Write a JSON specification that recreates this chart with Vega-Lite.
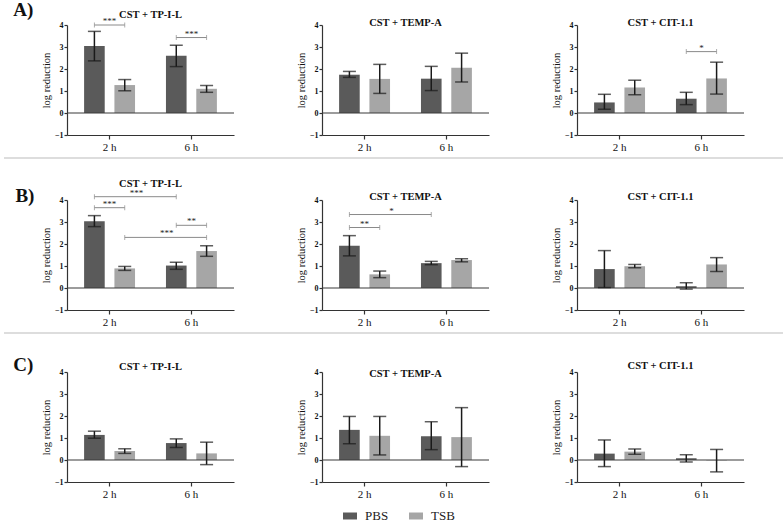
{
  "$schema": "https://vega.github.io/schema/vega-lite/v6.json",
  "padding": {"left": 3, "top": 1, "right": 0, "bottom": 0},
  "config": {
    "font": "Liberation Serif",
    "view": {"stroke": null},
    "title": {"font": "Liberation Serif", "fontSize": 10.5, "fontWeight": "bold", "color": "#111", "frame": "group", "anchor": "middle"},
    "axis": {"domainColor": "#333", "tickColor": "#333", "labelColor": "#111", "titleColor": "#111", "labelFont": "Liberation Serif", "titleFont": "Liberation Serif", "domainWidth": 1.2, "tickWidth": 1.2, "grid": false},
    "axisX": {"labelFontSize": 11, "labelAngle": 0, "tickSize": 4, "labelPadding": 2},
    "axisY": {"labelFontSize": 8, "labelFontWeight": "bold", "tickSize": 3, "labelPadding": 1, "titleFontSize": 10.5, "titleFontWeight": "normal", "titlePadding": 3, "labelOverlap": false},
    "legend": {"symbolType": "M-1,-0.5H1V0.5H-1Z", "symbolSize": 196, "symbolStrokeWidth": 0, "labelFont": "Liberation Serif", "labelFontSize": 13, "labelColor": "#222", "columnPadding": 20, "labelOffset": 8}
  },
  "datasets": {
    "bars": [
      {"panel": "A1", "time": "2 h", "medium": "PBS", "mean": 3.05, "lo": 2.37, "hi": 3.71},
      {"panel": "A1", "time": "2 h", "medium": "TSB", "mean": 1.27, "lo": 1.01, "hi": 1.52},
      {"panel": "A1", "time": "6 h", "medium": "PBS", "mean": 2.60, "lo": 2.11, "hi": 3.08},
      {"panel": "A1", "time": "6 h", "medium": "TSB", "mean": 1.10, "lo": 0.94, "hi": 1.25},
      {"panel": "A2", "time": "2 h", "medium": "PBS", "mean": 1.74, "lo": 1.62, "hi": 1.89},
      {"panel": "A2", "time": "2 h", "medium": "TSB", "mean": 1.55, "lo": 0.89, "hi": 2.21},
      {"panel": "A2", "time": "6 h", "medium": "PBS", "mean": 1.56, "lo": 1.02, "hi": 2.12},
      {"panel": "A2", "time": "6 h", "medium": "TSB", "mean": 2.06, "lo": 1.41, "hi": 2.72},
      {"panel": "A3", "time": "2 h", "medium": "PBS", "mean": 0.48, "lo": 0.17, "hi": 0.85},
      {"panel": "A3", "time": "2 h", "medium": "TSB", "mean": 1.16, "lo": 0.83, "hi": 1.49},
      {"panel": "A3", "time": "6 h", "medium": "PBS", "mean": 0.65, "lo": 0.38, "hi": 0.94},
      {"panel": "A3", "time": "6 h", "medium": "TSB", "mean": 1.57, "lo": 0.86, "hi": 2.31},
      {"panel": "B1", "time": "2 h", "medium": "PBS", "mean": 3.03, "lo": 2.79, "hi": 3.29},
      {"panel": "B1", "time": "2 h", "medium": "TSB", "mean": 0.89, "lo": 0.80, "hi": 0.98},
      {"panel": "B1", "time": "6 h", "medium": "PBS", "mean": 1.02, "lo": 0.85, "hi": 1.17},
      {"panel": "B1", "time": "6 h", "medium": "TSB", "mean": 1.68, "lo": 1.44, "hi": 1.92},
      {"panel": "B2", "time": "2 h", "medium": "PBS", "mean": 1.92, "lo": 1.46, "hi": 2.38},
      {"panel": "B2", "time": "2 h", "medium": "TSB", "mean": 0.62, "lo": 0.47, "hi": 0.77},
      {"panel": "B2", "time": "6 h", "medium": "PBS", "mean": 1.13, "lo": 1.06, "hi": 1.21},
      {"panel": "B2", "time": "6 h", "medium": "TSB", "mean": 1.27, "lo": 1.19, "hi": 1.33},
      {"panel": "B3", "time": "2 h", "medium": "PBS", "mean": 0.86, "lo": 0.02, "hi": 1.70},
      {"panel": "B3", "time": "2 h", "medium": "TSB", "mean": 0.99, "lo": 0.92, "hi": 1.07},
      {"panel": "B3", "time": "6 h", "medium": "PBS", "mean": 0.08, "lo": -0.05, "hi": 0.24},
      {"panel": "B3", "time": "6 h", "medium": "TSB", "mean": 1.07, "lo": 0.75, "hi": 1.38},
      {"panel": "C1", "time": "2 h", "medium": "PBS", "mean": 1.14, "lo": 0.99, "hi": 1.31},
      {"panel": "C1", "time": "2 h", "medium": "TSB", "mean": 0.41, "lo": 0.30, "hi": 0.51},
      {"panel": "C1", "time": "6 h", "medium": "PBS", "mean": 0.77, "lo": 0.57, "hi": 0.96},
      {"panel": "C1", "time": "6 h", "medium": "TSB", "mean": 0.30, "lo": -0.21, "hi": 0.81},
      {"panel": "C2", "time": "2 h", "medium": "PBS", "mean": 1.37, "lo": 0.74, "hi": 1.98},
      {"panel": "C2", "time": "2 h", "medium": "TSB", "mean": 1.10, "lo": 0.23, "hi": 1.98},
      {"panel": "C2", "time": "6 h", "medium": "PBS", "mean": 1.08, "lo": 0.47, "hi": 1.74},
      {"panel": "C2", "time": "6 h", "medium": "TSB", "mean": 1.04, "lo": -0.30, "hi": 2.38},
      {"panel": "C3", "time": "2 h", "medium": "PBS", "mean": 0.29, "lo": -0.30, "hi": 0.91},
      {"panel": "C3", "time": "2 h", "medium": "TSB", "mean": 0.38, "lo": 0.26, "hi": 0.50},
      {"panel": "C3", "time": "6 h", "medium": "PBS", "mean": 0.08, "lo": -0.09, "hi": 0.24},
      {"panel": "C3", "time": "6 h", "medium": "TSB", "mean": -0.02, "lo": -0.54, "hi": 0.48}
    ],
    "bracketEnds": [
      {"panel": "A1", "bracket": "a", "time": "2 h", "medium": "PBS", "level": 4.0},
      {"panel": "A1", "bracket": "a", "time": "2 h", "medium": "TSB", "level": 4.0},
      {"panel": "A1", "bracket": "b", "time": "6 h", "medium": "PBS", "level": 3.43},
      {"panel": "A1", "bracket": "b", "time": "6 h", "medium": "TSB", "level": 3.43},
      {"panel": "A3", "bracket": "a", "time": "6 h", "medium": "PBS", "level": 2.79},
      {"panel": "A3", "bracket": "a", "time": "6 h", "medium": "TSB", "level": 2.79},
      {"panel": "B1", "bracket": "a", "time": "2 h", "medium": "PBS", "level": 4.15},
      {"panel": "B1", "bracket": "a", "time": "6 h", "medium": "PBS", "level": 4.15},
      {"panel": "B1", "bracket": "b", "time": "2 h", "medium": "PBS", "level": 3.65},
      {"panel": "B1", "bracket": "b", "time": "2 h", "medium": "TSB", "level": 3.65},
      {"panel": "B1", "bracket": "c", "time": "6 h", "medium": "PBS", "level": 2.85},
      {"panel": "B1", "bracket": "c", "time": "6 h", "medium": "TSB", "level": 2.85},
      {"panel": "B1", "bracket": "d", "time": "2 h", "medium": "TSB", "level": 2.30},
      {"panel": "B1", "bracket": "d", "time": "6 h", "medium": "TSB", "level": 2.30},
      {"panel": "B2", "bracket": "a", "time": "2 h", "medium": "PBS", "level": 3.34},
      {"panel": "B2", "bracket": "a", "time": "6 h", "medium": "PBS", "level": 3.34},
      {"panel": "B2", "bracket": "b", "time": "2 h", "medium": "PBS", "level": 2.75},
      {"panel": "B2", "bracket": "b", "time": "2 h", "medium": "TSB", "level": 2.75}
    ],
    "bracketLabels": [
      {"panel": "A1", "comparison": "medium", "time": "2 h", "medium": "PBS", "level": 4.0, "label": "***"},
      {"panel": "A1", "comparison": "medium", "time": "6 h", "medium": "PBS", "level": 3.43, "label": "***"},
      {"panel": "A3", "comparison": "medium", "time": "6 h", "medium": "PBS", "level": 2.79, "label": "*"},
      {"panel": "B1", "comparison": "time", "time": "2 h", "medium": "PBS", "level": 4.15, "label": "***"},
      {"panel": "B1", "comparison": "medium", "time": "2 h", "medium": "PBS", "level": 3.65, "label": "***"},
      {"panel": "B1", "comparison": "medium", "time": "6 h", "medium": "PBS", "level": 2.85, "label": "**"},
      {"panel": "B1", "comparison": "time", "time": "2 h", "medium": "TSB", "level": 2.30, "label": "***"},
      {"panel": "B2", "comparison": "time", "time": "2 h", "medium": "PBS", "level": 3.34, "label": "*"},
      {"panel": "B2", "comparison": "medium", "time": "2 h", "medium": "PBS", "level": 2.75, "label": "**"}
    ],
    "baseline": [{"base": 0}]
  },
  "spacing": 5,
  "vconcat": [
    {
      "title": {"text": "A)", "orient": "left", "anchor": "end", "angle": 0, "align": "right", "baseline": "top", "fontSize": 19, "fontWeight": "bold", "offset": -12, "dy": -24, "frame": "group"},
      "bounds": "flush", "spacing": 88,
      "hconcat": [
        {
          "width": 167, "height": 110,
          "title": {"text": "CST + TP-I-L", "offset": -3},
          "data": {"name": "bars"},
          "transform": [{"filter": "datum.panel === 'A1'"}],
          "layer": [
            {"mark": {"type": "bar"}, "encoding": {
              "x": {"field": "time", "type": "nominal", "scale": {"domain": ["2 h", "6 h"], "paddingInner": 0, "paddingOuter": 0.02}, "axis": {"title": null}},
              "xOffset": {"field": "medium", "type": "nominal", "scale": {"domain": ["PBS", "TSB"], "paddingInner": 0.32, "paddingOuter": 0.51}},
              "y": {"field": "mean", "type": "quantitative", "scale": {"domain": [-1, 4], "nice": false}, "axis": {"values": [-1, 0, 1, 2, 3, 4], "tickCount": 6, "title": "log reduction", "labelOverlap": false}},
              "color": {"field": "medium", "type": "nominal", "scale": {"domain": ["PBS", "TSB"], "range": ["#5a5a5a", "#a6a6a6"]}, "legend": {"orient": "none", "legendX": 276, "legendY": 484, "direction": "horizontal", "title": null}}}},
            {"data": {"name": "baseline"}, "mark": {"type": "rule", "color": "#3a3a3a", "strokeWidth": 1.2}, "encoding": {
              "y": {"field": "base", "type": "quantitative", "scale": {"domain": [-1, 4], "nice": false}}}},
            {"mark": {"type": "rule", "color": "#1a1a1a", "strokeWidth": 1.5}, "encoding": {
              "x": {"field": "time", "type": "nominal"}, "xOffset": {"field": "medium", "type": "nominal"},
              "y": {"field": "lo", "type": "quantitative", "scale": {"domain": [-1, 4], "nice": false}}, "y2": {"field": "hi"}}},
            {"mark": {"type": "tick", "orient": "horizontal", "color": "#1a1a1a", "thickness": 1.5, "size": 13}, "encoding": {
              "x": {"field": "time", "type": "nominal"}, "xOffset": {"field": "medium", "type": "nominal"},
              "y": {"field": "hi", "type": "quantitative", "scale": {"domain": [-1, 4], "nice": false}}}},
            {"mark": {"type": "tick", "orient": "horizontal", "color": "#1a1a1a", "thickness": 1.5, "size": 13}, "encoding": {
              "x": {"field": "time", "type": "nominal"}, "xOffset": {"field": "medium", "type": "nominal"},
              "y": {"field": "lo", "type": "quantitative", "scale": {"domain": [-1, 4], "nice": false}}}},
            {"data": {"name": "bracketEnds"}, "transform": [{"filter": "datum.panel === 'A1'"}],
             "mark": {"type": "line", "color": "#8a8a8a", "strokeWidth": 1}, "encoding": {
              "x": {"field": "time", "type": "nominal"}, "xOffset": {"field": "medium", "type": "nominal"},
              "y": {"field": "level", "type": "quantitative", "scale": {"domain": [-1, 4], "nice": false}}, "detail": {"field": "bracket"}}},
            {"data": {"name": "bracketEnds"}, "transform": [{"filter": "datum.panel === 'A1'"}],
             "mark": {"type": "tick", "orient": "vertical", "color": "#8a8a8a", "thickness": 1, "size": 5}, "encoding": {
              "x": {"field": "time", "type": "nominal"}, "xOffset": {"field": "medium", "type": "nominal"},
              "y": {"field": "level", "type": "quantitative", "scale": {"domain": [-1, 4], "nice": false}}}},
            {"data": {"name": "bracketLabels"}, "transform": [{"filter": "datum.panel === 'A1' && datum.comparison === 'medium'"}],
             "mark": {"type": "text", "baseline": "bottom", "dy": 1, "fontSize": 9, "color": "#222"}, "encoding": {
              "x": {"field": "time", "type": "nominal"},
              "y": {"field": "level", "type": "quantitative", "scale": {"domain": [-1, 4], "nice": false}}, "text": {"field": "label"}}}
          ]
        },
        {
          "width": 167, "height": 110,
          "title": {"text": "CST + TEMP-A", "offset": -7},
          "data": {"name": "bars"},
          "transform": [{"filter": "datum.panel === 'A2'"}],
          "layer": [
            {"mark": {"type": "bar"}, "encoding": {
              "x": {"field": "time", "type": "nominal", "scale": {"domain": ["2 h", "6 h"], "paddingInner": 0, "paddingOuter": 0.02}, "axis": {"title": null}},
              "xOffset": {"field": "medium", "type": "nominal", "scale": {"domain": ["PBS", "TSB"], "paddingInner": 0.32, "paddingOuter": 0.51}},
              "y": {"field": "mean", "type": "quantitative", "scale": {"domain": [-1, 4], "nice": false}, "axis": {"values": [-1, 0, 1, 2, 3, 4], "tickCount": 6, "title": "log reduction", "labelOverlap": false}},
              "color": {"field": "medium", "type": "nominal", "scale": {"domain": ["PBS", "TSB"], "range": ["#5a5a5a", "#a6a6a6"]}, "legend": {"orient": "none", "legendX": 276, "legendY": 484, "direction": "horizontal", "title": null}}}},
            {"data": {"name": "baseline"}, "mark": {"type": "rule", "color": "#3a3a3a", "strokeWidth": 1.2}, "encoding": {
              "y": {"field": "base", "type": "quantitative", "scale": {"domain": [-1, 4], "nice": false}}}},
            {"mark": {"type": "rule", "color": "#1a1a1a", "strokeWidth": 1.5}, "encoding": {
              "x": {"field": "time", "type": "nominal"}, "xOffset": {"field": "medium", "type": "nominal"},
              "y": {"field": "lo", "type": "quantitative", "scale": {"domain": [-1, 4], "nice": false}}, "y2": {"field": "hi"}}},
            {"mark": {"type": "tick", "orient": "horizontal", "color": "#1a1a1a", "thickness": 1.5, "size": 13}, "encoding": {
              "x": {"field": "time", "type": "nominal"}, "xOffset": {"field": "medium", "type": "nominal"},
              "y": {"field": "hi", "type": "quantitative", "scale": {"domain": [-1, 4], "nice": false}}}},
            {"mark": {"type": "tick", "orient": "horizontal", "color": "#1a1a1a", "thickness": 1.5, "size": 13}, "encoding": {
              "x": {"field": "time", "type": "nominal"}, "xOffset": {"field": "medium", "type": "nominal"},
              "y": {"field": "lo", "type": "quantitative", "scale": {"domain": [-1, 4], "nice": false}}}}
          ]
        },
        {
          "width": 167, "height": 110,
          "title": {"text": "CST + CIT-1.1", "offset": -7},
          "data": {"name": "bars"},
          "transform": [{"filter": "datum.panel === 'A3'"}],
          "layer": [
            {"mark": {"type": "bar"}, "encoding": {
              "x": {"field": "time", "type": "nominal", "scale": {"domain": ["2 h", "6 h"], "paddingInner": 0, "paddingOuter": 0.02}, "axis": {"title": null}},
              "xOffset": {"field": "medium", "type": "nominal", "scale": {"domain": ["PBS", "TSB"], "paddingInner": 0.32, "paddingOuter": 0.51}},
              "y": {"field": "mean", "type": "quantitative", "scale": {"domain": [-1, 4], "nice": false}, "axis": {"values": [-1, 0, 1, 2, 3, 4], "tickCount": 6, "title": "log reduction", "labelOverlap": false}},
              "color": {"field": "medium", "type": "nominal", "scale": {"domain": ["PBS", "TSB"], "range": ["#5a5a5a", "#a6a6a6"]}, "legend": {"orient": "none", "legendX": 276, "legendY": 484, "direction": "horizontal", "title": null}}}},
            {"data": {"name": "baseline"}, "mark": {"type": "rule", "color": "#3a3a3a", "strokeWidth": 1.2}, "encoding": {
              "y": {"field": "base", "type": "quantitative", "scale": {"domain": [-1, 4], "nice": false}}}},
            {"mark": {"type": "rule", "color": "#1a1a1a", "strokeWidth": 1.5}, "encoding": {
              "x": {"field": "time", "type": "nominal"}, "xOffset": {"field": "medium", "type": "nominal"},
              "y": {"field": "lo", "type": "quantitative", "scale": {"domain": [-1, 4], "nice": false}}, "y2": {"field": "hi"}}},
            {"mark": {"type": "tick", "orient": "horizontal", "color": "#1a1a1a", "thickness": 1.5, "size": 13}, "encoding": {
              "x": {"field": "time", "type": "nominal"}, "xOffset": {"field": "medium", "type": "nominal"},
              "y": {"field": "hi", "type": "quantitative", "scale": {"domain": [-1, 4], "nice": false}}}},
            {"mark": {"type": "tick", "orient": "horizontal", "color": "#1a1a1a", "thickness": 1.5, "size": 13}, "encoding": {
              "x": {"field": "time", "type": "nominal"}, "xOffset": {"field": "medium", "type": "nominal"},
              "y": {"field": "lo", "type": "quantitative", "scale": {"domain": [-1, 4], "nice": false}}}},
            {"data": {"name": "bracketEnds"}, "transform": [{"filter": "datum.panel === 'A3'"}],
             "mark": {"type": "line", "color": "#8a8a8a", "strokeWidth": 1}, "encoding": {
              "x": {"field": "time", "type": "nominal"}, "xOffset": {"field": "medium", "type": "nominal"},
              "y": {"field": "level", "type": "quantitative", "scale": {"domain": [-1, 4], "nice": false}}, "detail": {"field": "bracket"}}},
            {"data": {"name": "bracketEnds"}, "transform": [{"filter": "datum.panel === 'A3'"}],
             "mark": {"type": "tick", "orient": "vertical", "color": "#8a8a8a", "thickness": 1, "size": 5}, "encoding": {
              "x": {"field": "time", "type": "nominal"}, "xOffset": {"field": "medium", "type": "nominal"},
              "y": {"field": "level", "type": "quantitative", "scale": {"domain": [-1, 4], "nice": false}}}},
            {"data": {"name": "bracketLabels"}, "transform": [{"filter": "datum.panel === 'A3' && datum.comparison === 'medium'"}],
             "mark": {"type": "text", "baseline": "bottom", "dy": 1, "fontSize": 9, "color": "#222"}, "encoding": {
              "x": {"field": "time", "type": "nominal"},
              "y": {"field": "level", "type": "quantitative", "scale": {"domain": [-1, 4], "nice": false}}, "text": {"field": "label"}}}
          ]
        }
      ]
    },
    {
      "width": 716, "height": 16,
      "data": {"values": [{"edge": 1}]},
      "mark": {"type": "rule", "color": "#d2d2d2", "strokeWidth": 1.5},
      "encoding": {
        "y": {"field": "edge", "type": "quantitative", "scale": {"domain": [0, 1]}, "axis": null},
        "x": {"datum": -0.088, "type": "quantitative", "scale": {"domain": [0, 1]}, "axis": null},
        "x2": {"datum": 1}
      }
    },
    {
      "title": {"text": "B)", "orient": "left", "anchor": "end", "angle": 0, "align": "right", "baseline": "top", "fontSize": 19, "fontWeight": "bold", "offset": -12, "dy": -13, "frame": "group"},
      "bounds": "flush", "spacing": 88,
      "hconcat": [
        {
          "width": 167, "height": 110,
          "title": {"text": "CST + TP-I-L", "offset": -1},
          "data": {"name": "bars"},
          "transform": [{"filter": "datum.panel === 'B1'"}],
          "layer": [
            {"mark": {"type": "bar"}, "encoding": {
              "x": {"field": "time", "type": "nominal", "scale": {"domain": ["2 h", "6 h"], "paddingInner": 0, "paddingOuter": 0.02}, "axis": {"title": null}},
              "xOffset": {"field": "medium", "type": "nominal", "scale": {"domain": ["PBS", "TSB"], "paddingInner": 0.32, "paddingOuter": 0.51}},
              "y": {"field": "mean", "type": "quantitative", "scale": {"domain": [-1, 4], "nice": false}, "axis": {"values": [-1, 0, 1, 2, 3, 4], "tickCount": 6, "title": "log reduction", "labelOverlap": false}},
              "color": {"field": "medium", "type": "nominal", "scale": {"domain": ["PBS", "TSB"], "range": ["#5a5a5a", "#a6a6a6"]}, "legend": {"orient": "none", "legendX": 276, "legendY": 484, "direction": "horizontal", "title": null}}}},
            {"data": {"name": "baseline"}, "mark": {"type": "rule", "color": "#3a3a3a", "strokeWidth": 1.2}, "encoding": {
              "y": {"field": "base", "type": "quantitative", "scale": {"domain": [-1, 4], "nice": false}}}},
            {"mark": {"type": "rule", "color": "#1a1a1a", "strokeWidth": 1.5}, "encoding": {
              "x": {"field": "time", "type": "nominal"}, "xOffset": {"field": "medium", "type": "nominal"},
              "y": {"field": "lo", "type": "quantitative", "scale": {"domain": [-1, 4], "nice": false}}, "y2": {"field": "hi"}}},
            {"mark": {"type": "tick", "orient": "horizontal", "color": "#1a1a1a", "thickness": 1.5, "size": 13}, "encoding": {
              "x": {"field": "time", "type": "nominal"}, "xOffset": {"field": "medium", "type": "nominal"},
              "y": {"field": "hi", "type": "quantitative", "scale": {"domain": [-1, 4], "nice": false}}}},
            {"mark": {"type": "tick", "orient": "horizontal", "color": "#1a1a1a", "thickness": 1.5, "size": 13}, "encoding": {
              "x": {"field": "time", "type": "nominal"}, "xOffset": {"field": "medium", "type": "nominal"},
              "y": {"field": "lo", "type": "quantitative", "scale": {"domain": [-1, 4], "nice": false}}}},
            {"data": {"name": "bracketEnds"}, "transform": [{"filter": "datum.panel === 'B1'"}],
             "mark": {"type": "line", "color": "#8a8a8a", "strokeWidth": 1}, "encoding": {
              "x": {"field": "time", "type": "nominal"}, "xOffset": {"field": "medium", "type": "nominal"},
              "y": {"field": "level", "type": "quantitative", "scale": {"domain": [-1, 4], "nice": false}}, "detail": {"field": "bracket"}}},
            {"data": {"name": "bracketEnds"}, "transform": [{"filter": "datum.panel === 'B1'"}],
             "mark": {"type": "tick", "orient": "vertical", "color": "#8a8a8a", "thickness": 1, "size": 5}, "encoding": {
              "x": {"field": "time", "type": "nominal"}, "xOffset": {"field": "medium", "type": "nominal"},
              "y": {"field": "level", "type": "quantitative", "scale": {"domain": [-1, 4], "nice": false}}}},
            {"data": {"name": "bracketLabels"}, "transform": [{"filter": "datum.panel === 'B1' && datum.comparison === 'medium'"}],
             "mark": {"type": "text", "baseline": "bottom", "dy": 1, "fontSize": 9, "color": "#222"}, "encoding": {
              "x": {"field": "time", "type": "nominal"},
              "y": {"field": "level", "type": "quantitative", "scale": {"domain": [-1, 4], "nice": false}}, "text": {"field": "label"}}},
            {"data": {"name": "bracketLabels"}, "transform": [{"filter": "datum.panel === 'B1' && datum.comparison === 'time'"}],
             "mark": {"type": "text", "baseline": "bottom", "dy": 1, "dx": 42, "fontSize": 9, "color": "#222"}, "encoding": {
              "x": {"field": "time", "type": "nominal"}, "xOffset": {"field": "medium", "type": "nominal"},
              "y": {"field": "level", "type": "quantitative", "scale": {"domain": [-1, 4], "nice": false}}, "text": {"field": "label"}}}
          ]
        },
        {
          "width": 167, "height": 110,
          "title": {"text": "CST + TEMP-A", "offset": -6},
          "data": {"name": "bars"},
          "transform": [{"filter": "datum.panel === 'B2'"}],
          "layer": [
            {"mark": {"type": "bar"}, "encoding": {
              "x": {"field": "time", "type": "nominal", "scale": {"domain": ["2 h", "6 h"], "paddingInner": 0, "paddingOuter": 0.02}, "axis": {"title": null}},
              "xOffset": {"field": "medium", "type": "nominal", "scale": {"domain": ["PBS", "TSB"], "paddingInner": 0.32, "paddingOuter": 0.51}},
              "y": {"field": "mean", "type": "quantitative", "scale": {"domain": [-1, 4], "nice": false}, "axis": {"values": [-1, 0, 1, 2, 3, 4], "tickCount": 6, "title": "log reduction", "labelOverlap": false}},
              "color": {"field": "medium", "type": "nominal", "scale": {"domain": ["PBS", "TSB"], "range": ["#5a5a5a", "#a6a6a6"]}, "legend": {"orient": "none", "legendX": 276, "legendY": 484, "direction": "horizontal", "title": null}}}},
            {"data": {"name": "baseline"}, "mark": {"type": "rule", "color": "#3a3a3a", "strokeWidth": 1.2}, "encoding": {
              "y": {"field": "base", "type": "quantitative", "scale": {"domain": [-1, 4], "nice": false}}}},
            {"mark": {"type": "rule", "color": "#1a1a1a", "strokeWidth": 1.5}, "encoding": {
              "x": {"field": "time", "type": "nominal"}, "xOffset": {"field": "medium", "type": "nominal"},
              "y": {"field": "lo", "type": "quantitative", "scale": {"domain": [-1, 4], "nice": false}}, "y2": {"field": "hi"}}},
            {"mark": {"type": "tick", "orient": "horizontal", "color": "#1a1a1a", "thickness": 1.5, "size": 13}, "encoding": {
              "x": {"field": "time", "type": "nominal"}, "xOffset": {"field": "medium", "type": "nominal"},
              "y": {"field": "hi", "type": "quantitative", "scale": {"domain": [-1, 4], "nice": false}}}},
            {"mark": {"type": "tick", "orient": "horizontal", "color": "#1a1a1a", "thickness": 1.5, "size": 13}, "encoding": {
              "x": {"field": "time", "type": "nominal"}, "xOffset": {"field": "medium", "type": "nominal"},
              "y": {"field": "lo", "type": "quantitative", "scale": {"domain": [-1, 4], "nice": false}}}},
            {"data": {"name": "bracketEnds"}, "transform": [{"filter": "datum.panel === 'B2'"}],
             "mark": {"type": "line", "color": "#8a8a8a", "strokeWidth": 1}, "encoding": {
              "x": {"field": "time", "type": "nominal"}, "xOffset": {"field": "medium", "type": "nominal"},
              "y": {"field": "level", "type": "quantitative", "scale": {"domain": [-1, 4], "nice": false}}, "detail": {"field": "bracket"}}},
            {"data": {"name": "bracketEnds"}, "transform": [{"filter": "datum.panel === 'B2'"}],
             "mark": {"type": "tick", "orient": "vertical", "color": "#8a8a8a", "thickness": 1, "size": 5}, "encoding": {
              "x": {"field": "time", "type": "nominal"}, "xOffset": {"field": "medium", "type": "nominal"},
              "y": {"field": "level", "type": "quantitative", "scale": {"domain": [-1, 4], "nice": false}}}},
            {"data": {"name": "bracketLabels"}, "transform": [{"filter": "datum.panel === 'B2' && datum.comparison === 'medium'"}],
             "mark": {"type": "text", "baseline": "bottom", "dy": 1, "fontSize": 9, "color": "#222"}, "encoding": {
              "x": {"field": "time", "type": "nominal"},
              "y": {"field": "level", "type": "quantitative", "scale": {"domain": [-1, 4], "nice": false}}, "text": {"field": "label"}}},
            {"data": {"name": "bracketLabels"}, "transform": [{"filter": "datum.panel === 'B2' && datum.comparison === 'time'"}],
             "mark": {"type": "text", "baseline": "bottom", "dy": 1, "dx": 42, "fontSize": 9, "color": "#222"}, "encoding": {
              "x": {"field": "time", "type": "nominal"}, "xOffset": {"field": "medium", "type": "nominal"},
              "y": {"field": "level", "type": "quantitative", "scale": {"domain": [-1, 4], "nice": false}}, "text": {"field": "label"}}}
          ]
        },
        {
          "width": 167, "height": 110,
          "title": {"text": "CST + CIT-1.1", "offset": -6},
          "data": {"name": "bars"},
          "transform": [{"filter": "datum.panel === 'B3'"}],
          "layer": [
            {"mark": {"type": "bar"}, "encoding": {
              "x": {"field": "time", "type": "nominal", "scale": {"domain": ["2 h", "6 h"], "paddingInner": 0, "paddingOuter": 0.02}, "axis": {"title": null}},
              "xOffset": {"field": "medium", "type": "nominal", "scale": {"domain": ["PBS", "TSB"], "paddingInner": 0.32, "paddingOuter": 0.51}},
              "y": {"field": "mean", "type": "quantitative", "scale": {"domain": [-1, 4], "nice": false}, "axis": {"values": [-1, 0, 1, 2, 3, 4], "tickCount": 6, "title": "log reduction", "labelOverlap": false}},
              "color": {"field": "medium", "type": "nominal", "scale": {"domain": ["PBS", "TSB"], "range": ["#5a5a5a", "#a6a6a6"]}, "legend": {"orient": "none", "legendX": 276, "legendY": 484, "direction": "horizontal", "title": null}}}},
            {"data": {"name": "baseline"}, "mark": {"type": "rule", "color": "#3a3a3a", "strokeWidth": 1.2}, "encoding": {
              "y": {"field": "base", "type": "quantitative", "scale": {"domain": [-1, 4], "nice": false}}}},
            {"mark": {"type": "rule", "color": "#1a1a1a", "strokeWidth": 1.5}, "encoding": {
              "x": {"field": "time", "type": "nominal"}, "xOffset": {"field": "medium", "type": "nominal"},
              "y": {"field": "lo", "type": "quantitative", "scale": {"domain": [-1, 4], "nice": false}}, "y2": {"field": "hi"}}},
            {"mark": {"type": "tick", "orient": "horizontal", "color": "#1a1a1a", "thickness": 1.5, "size": 13}, "encoding": {
              "x": {"field": "time", "type": "nominal"}, "xOffset": {"field": "medium", "type": "nominal"},
              "y": {"field": "hi", "type": "quantitative", "scale": {"domain": [-1, 4], "nice": false}}}},
            {"mark": {"type": "tick", "orient": "horizontal", "color": "#1a1a1a", "thickness": 1.5, "size": 13}, "encoding": {
              "x": {"field": "time", "type": "nominal"}, "xOffset": {"field": "medium", "type": "nominal"},
              "y": {"field": "lo", "type": "quantitative", "scale": {"domain": [-1, 4], "nice": false}}}}
          ]
        }
      ]
    },
    {
      "width": 716, "height": 18,
      "data": {"values": [{"edge": 1}]},
      "mark": {"type": "rule", "color": "#d2d2d2", "strokeWidth": 1.5},
      "encoding": {
        "y": {"field": "edge", "type": "quantitative", "scale": {"domain": [0, 1]}, "axis": null},
        "x": {"datum": -0.088, "type": "quantitative", "scale": {"domain": [0, 1]}, "axis": null},
        "x2": {"datum": 1}
      }
    },
    {
      "title": {"text": "C)", "orient": "left", "anchor": "end", "angle": 0, "align": "right", "baseline": "top", "fontSize": 19, "fontWeight": "bold", "offset": -12, "dy": -16, "frame": "group"},
      "bounds": "flush", "spacing": 88,
      "hconcat": [
        {
          "width": 167, "height": 110,
          "title": {"text": "CST + TP-I-L", "offset": -4},
          "data": {"name": "bars"},
          "transform": [{"filter": "datum.panel === 'C1'"}],
          "layer": [
            {"mark": {"type": "bar"}, "encoding": {
              "x": {"field": "time", "type": "nominal", "scale": {"domain": ["2 h", "6 h"], "paddingInner": 0, "paddingOuter": 0.02}, "axis": {"title": null}},
              "xOffset": {"field": "medium", "type": "nominal", "scale": {"domain": ["PBS", "TSB"], "paddingInner": 0.32, "paddingOuter": 0.51}},
              "y": {"field": "mean", "type": "quantitative", "scale": {"domain": [-1, 4], "nice": false}, "axis": {"values": [-1, 0, 1, 2, 3, 4], "tickCount": 6, "title": "log reduction", "labelOverlap": false}},
              "color": {"field": "medium", "type": "nominal", "scale": {"domain": ["PBS", "TSB"], "range": ["#5a5a5a", "#a6a6a6"]}, "legend": {"orient": "none", "legendX": 276, "legendY": 484, "direction": "horizontal", "title": null}}}},
            {"data": {"name": "baseline"}, "mark": {"type": "rule", "color": "#3a3a3a", "strokeWidth": 1.2}, "encoding": {
              "y": {"field": "base", "type": "quantitative", "scale": {"domain": [-1, 4], "nice": false}}}},
            {"mark": {"type": "rule", "color": "#1a1a1a", "strokeWidth": 1.5}, "encoding": {
              "x": {"field": "time", "type": "nominal"}, "xOffset": {"field": "medium", "type": "nominal"},
              "y": {"field": "lo", "type": "quantitative", "scale": {"domain": [-1, 4], "nice": false}}, "y2": {"field": "hi"}}},
            {"mark": {"type": "tick", "orient": "horizontal", "color": "#1a1a1a", "thickness": 1.5, "size": 13}, "encoding": {
              "x": {"field": "time", "type": "nominal"}, "xOffset": {"field": "medium", "type": "nominal"},
              "y": {"field": "hi", "type": "quantitative", "scale": {"domain": [-1, 4], "nice": false}}}},
            {"mark": {"type": "tick", "orient": "horizontal", "color": "#1a1a1a", "thickness": 1.5, "size": 13}, "encoding": {
              "x": {"field": "time", "type": "nominal"}, "xOffset": {"field": "medium", "type": "nominal"},
              "y": {"field": "lo", "type": "quantitative", "scale": {"domain": [-1, 4], "nice": false}}}}
          ]
        },
        {
          "width": 167, "height": 110,
          "title": {"text": "CST + TEMP-A", "offset": -11},
          "data": {"name": "bars"},
          "transform": [{"filter": "datum.panel === 'C2'"}],
          "layer": [
            {"mark": {"type": "bar"}, "encoding": {
              "x": {"field": "time", "type": "nominal", "scale": {"domain": ["2 h", "6 h"], "paddingInner": 0, "paddingOuter": 0.02}, "axis": {"title": null}},
              "xOffset": {"field": "medium", "type": "nominal", "scale": {"domain": ["PBS", "TSB"], "paddingInner": 0.32, "paddingOuter": 0.51}},
              "y": {"field": "mean", "type": "quantitative", "scale": {"domain": [-1, 4], "nice": false}, "axis": {"values": [-1, 0, 1, 2, 3, 4], "tickCount": 6, "title": "log reduction", "labelOverlap": false}},
              "color": {"field": "medium", "type": "nominal", "scale": {"domain": ["PBS", "TSB"], "range": ["#5a5a5a", "#a6a6a6"]}, "legend": {"orient": "none", "legendX": 276, "legendY": 484, "direction": "horizontal", "title": null}}}},
            {"data": {"name": "baseline"}, "mark": {"type": "rule", "color": "#3a3a3a", "strokeWidth": 1.2}, "encoding": {
              "y": {"field": "base", "type": "quantitative", "scale": {"domain": [-1, 4], "nice": false}}}},
            {"mark": {"type": "rule", "color": "#1a1a1a", "strokeWidth": 1.5}, "encoding": {
              "x": {"field": "time", "type": "nominal"}, "xOffset": {"field": "medium", "type": "nominal"},
              "y": {"field": "lo", "type": "quantitative", "scale": {"domain": [-1, 4], "nice": false}}, "y2": {"field": "hi"}}},
            {"mark": {"type": "tick", "orient": "horizontal", "color": "#1a1a1a", "thickness": 1.5, "size": 13}, "encoding": {
              "x": {"field": "time", "type": "nominal"}, "xOffset": {"field": "medium", "type": "nominal"},
              "y": {"field": "hi", "type": "quantitative", "scale": {"domain": [-1, 4], "nice": false}}}},
            {"mark": {"type": "tick", "orient": "horizontal", "color": "#1a1a1a", "thickness": 1.5, "size": 13}, "encoding": {
              "x": {"field": "time", "type": "nominal"}, "xOffset": {"field": "medium", "type": "nominal"},
              "y": {"field": "lo", "type": "quantitative", "scale": {"domain": [-1, 4], "nice": false}}}}
          ]
        },
        {
          "width": 167, "height": 110,
          "title": {"text": "CST + CIT-1.1", "offset": -3},
          "data": {"name": "bars"},
          "transform": [{"filter": "datum.panel === 'C3'"}],
          "layer": [
            {"mark": {"type": "bar"}, "encoding": {
              "x": {"field": "time", "type": "nominal", "scale": {"domain": ["2 h", "6 h"], "paddingInner": 0, "paddingOuter": 0.02}, "axis": {"title": null}},
              "xOffset": {"field": "medium", "type": "nominal", "scale": {"domain": ["PBS", "TSB"], "paddingInner": 0.32, "paddingOuter": 0.51}},
              "y": {"field": "mean", "type": "quantitative", "scale": {"domain": [-1, 4], "nice": false}, "axis": {"values": [-1, 0, 1, 2, 3, 4], "tickCount": 6, "title": "log reduction", "labelOverlap": false}},
              "color": {"field": "medium", "type": "nominal", "scale": {"domain": ["PBS", "TSB"], "range": ["#5a5a5a", "#a6a6a6"]}, "legend": {"orient": "none", "legendX": 276, "legendY": 484, "direction": "horizontal", "title": null}}}},
            {"data": {"name": "baseline"}, "mark": {"type": "rule", "color": "#3a3a3a", "strokeWidth": 1.2}, "encoding": {
              "y": {"field": "base", "type": "quantitative", "scale": {"domain": [-1, 4], "nice": false}}}},
            {"mark": {"type": "rule", "color": "#1a1a1a", "strokeWidth": 1.5}, "encoding": {
              "x": {"field": "time", "type": "nominal"}, "xOffset": {"field": "medium", "type": "nominal"},
              "y": {"field": "lo", "type": "quantitative", "scale": {"domain": [-1, 4], "nice": false}}, "y2": {"field": "hi"}}},
            {"mark": {"type": "tick", "orient": "horizontal", "color": "#1a1a1a", "thickness": 1.5, "size": 13}, "encoding": {
              "x": {"field": "time", "type": "nominal"}, "xOffset": {"field": "medium", "type": "nominal"},
              "y": {"field": "hi", "type": "quantitative", "scale": {"domain": [-1, 4], "nice": false}}}},
            {"mark": {"type": "tick", "orient": "horizontal", "color": "#1a1a1a", "thickness": 1.5, "size": 13}, "encoding": {
              "x": {"field": "time", "type": "nominal"}, "xOffset": {"field": "medium", "type": "nominal"},
              "y": {"field": "lo", "type": "quantitative", "scale": {"domain": [-1, 4], "nice": false}}}}
          ]
        }
      ]
    }
  ]
}
